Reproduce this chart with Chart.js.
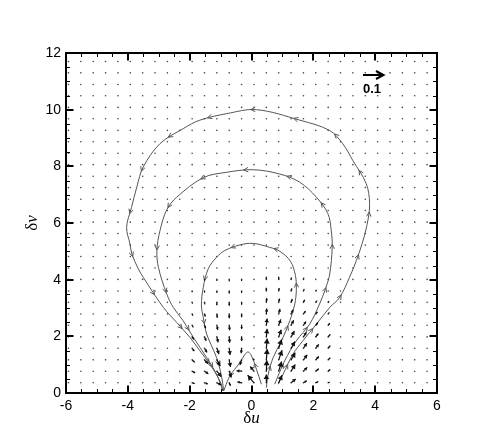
<!DOCTYPE html>
<html>
<head>
<meta charset="utf-8">
<script src="https://cdn.jsdelivr.net/npm/chart.js@4.4.0/dist/chart.umd.min.js"></script>
<style>
  body { margin: 0; background: #fff; }
</style>
</head>
<body>
<canvas id="chart" width="498" height="443"></canvas>
<script>
// tick labels
const xTicks = [-6, -4, -2, 0, 2, 4, 6];
const yTicks = [0, 2, 4, 6, 8, 10, 12];

// vector grid (positions of the little arrows)
const gridX = [-5.92, -5.52, -5.12, -4.72, -4.32, -3.92, -3.52, -3.12, -2.72, -2.32,
               -1.92, -1.52, -1.12, -0.72, -0.32, 0.08, 0.48, 0.88, 1.28, 1.68,
               2.08, 2.48, 2.88, 3.28, 3.68, 4.08, 4.48, 4.88, 5.28, 5.68];
const gridY = [0.36, 0.77, 1.17, 1.58, 1.98, 2.39, 2.79, 3.20, 3.60, 4.01,
               4.41, 4.82, 5.22, 5.63, 6.03, 6.44, 6.84, 7.25, 7.65, 8.06,
               8.46, 8.87, 9.27, 9.68, 10.08, 10.49, 10.89, 11.30, 11.70];

// visible vectors near the bottom centre (rows = gridY[0..9])
const quivCols = [-1.92, -1.52, -1.12, -0.72, -0.32, 0.08, 0.48, 0.88, 1.28, 1.68, 2.08, 2.48];
const quivRows = [0.36, 0.77, 1.17, 1.58, 1.98, 2.39, 2.79, 3.20, 3.60, 4.01];
const quivU = [
  [0.012, 0.016, 0.020, 0.006, -0.020, -0.030, 0.000, 0.016, 0.022, 0.016, 0.012, 0.008],
  [0.014, 0.018, 0.020, 0.010, -0.024, -0.018, 0.002, 0.014, 0.020, 0.018, 0.014, 0.010],
  [0.012, 0.016, 0.016, 0.006, -0.008, -0.004, 0.004, 0.016, 0.020, 0.018, 0.014, 0.010],
  [0.010, 0.012, 0.010, 0.004, -0.002, 0.000, 0.004, 0.014, 0.018, 0.016, 0.014, 0.010],
  [0.008, 0.008, 0.006, 0.002, 0.000, 0.000, 0.004, 0.012, 0.016, 0.014, 0.012, 0.010],
  [0.006, 0.006, 0.004, 0.002, 0.000, 0.000, 0.004, 0.010, 0.012, 0.012, 0.010, 0.008],
  [0.004, 0.004, 0.002, 0.000, 0.000, 0.000, 0.002, 0.006, 0.010, 0.010, 0.008, 0.006],
  [0.002, 0.002, 0.000, 0.000, 0.000, 0.000, 0.002, 0.004, 0.006, 0.006, 0.006, 0.004],
  [0.000, 0.000, 0.000, 0.000, 0.000, 0.000, 0.000, 0.002, 0.004, 0.004, 0.004, 0.002],
  [0.000, 0.000, 0.000, 0.000, 0.000, 0.000, 0.000, 0.000, 0.002, 0.002, 0.002, 0.002]
];
const quivV = [
  [-0.004, -0.006, -0.010, -0.014, 0.004, 0.036, 0.040, 0.036, 0.018, 0.010, 0.006, 0.004],
  [-0.008, -0.012, -0.026, -0.030, 0.002, 0.022, 0.052, 0.046, 0.032, 0.018, 0.012, 0.008],
  [-0.012, -0.018, -0.030, -0.034, -0.024, 0.006, 0.052, 0.046, 0.034, 0.024, 0.016, 0.010],
  [-0.014, -0.020, -0.028, -0.032, -0.024, 0.004, 0.046, 0.042, 0.032, 0.024, 0.018, 0.012],
  [-0.012, -0.018, -0.026, -0.028, -0.020, 0.004, 0.038, 0.034, 0.028, 0.022, 0.016, 0.012],
  [-0.010, -0.014, -0.022, -0.024, -0.018, 0.004, 0.032, 0.028, 0.024, 0.018, 0.014, 0.010],
  [-0.008, -0.012, -0.018, -0.020, -0.016, 0.004, 0.026, 0.024, 0.020, 0.014, 0.010, 0.008],
  [-0.006, -0.010, -0.014, -0.016, -0.012, 0.004, 0.020, 0.018, 0.016, 0.012, 0.008, 0.006],
  [-0.006, -0.008, -0.010, -0.012, -0.010, 0.004, 0.016, 0.014, 0.012, 0.010, 0.006, 0.004],
  [-0.004, -0.006, -0.008, -0.010, -0.008, 0.004, 0.012, 0.012, 0.010, 0.008, 0.005, 0.004]
];

// streamlines, in flow order
const outerX = [0.86, 1.02, 1.34, 1.66, 2.10, 2.53, 2.85, 3.17, 3.39, 3.58, 3.74, 3.82, 3.71, 3.28, 2.95, 2.52, 1.56, 0.16,
                -0.80, -1.67, -2.21, -2.96, -3.50, -3.71, -3.88, -4.04, -3.93, -3.87, -3.66, -3.50, -2.85, -2.42, -1.99, -1.67, -1.35, -1.02, -0.92];
const outerY = [0.31, 0.66, 1.37, 1.84, 2.43, 3.02, 3.37, 4.08, 4.67, 5.28, 5.95, 6.68, 7.39, 8.20, 8.80, 9.27, 9.63, 10.00,
                9.86, 9.63, 9.33, 8.80, 7.98, 7.27, 6.55, 5.85, 5.26, 4.91, 4.38, 4.08, 3.02, 2.49, 1.96, 1.49, 1.02, 0.42, 0.07];
const middleX = [0.75, 1.07, 1.45, 1.88, 2.20, 2.40, 2.53, 2.61, 2.58, 2.47, 2.10, 1.56, 0.91, 0.05,
                 -0.80, -1.56, -2.42, -2.74, -2.96, -3.06, -3.01, -2.74, -2.53, -2.21, -1.88, -1.45, -1.13, -0.92];
const middleY = [0.31, 1.13, 1.84, 2.43, 3.14, 3.70, 4.20, 5.14, 5.73, 6.33, 6.91, 7.44, 7.73, 7.88,
                 7.79, 7.60, 6.91, 6.47, 5.73, 5.03, 4.43, 3.49, 3.02, 2.55, 1.96, 1.25, 0.66, 0.07];
const innerX = [0.48, 0.54, 0.70, 0.97, 1.24, 1.40, 1.45, 1.42, 1.26, 0.92, 0.59, 0.05,
                -0.40, -0.86, -1.13, -1.40, -1.56, -1.62, -1.56, -1.45, -1.13, -0.97, -0.90];
const innerY = [0.19, 0.66, 1.25, 1.84, 2.55, 3.14, 3.65, 4.15, 4.65, 5.00, 5.14, 5.28,
                5.22, 5.03, 4.79, 4.38, 3.73, 3.10, 2.67, 2.08, 1.25, 0.60, 0.07];
const humpX = [0.32, 0.16, 0.00, -0.11, -0.22, -0.38, -0.70, -0.86, -0.90];
const humpY = [0.31, 0.84, 1.31, 1.45, 1.35, 1.07, 0.60, 0.19, 0.07];

const vecScale = 210; // px per velocity unit (0.1 -> 21 px)

function toPoints(xs, ys) {
  return xs.map((x, i) => ({ x: x, y: ys[i] }));
}

const gridPoints = [];
gridY.forEach(y => gridX.forEach(x => gridPoints.push({ x: x, y: y })));

function streamSet(xs, ys) {
  return {
    data: toPoints(xs, ys),
    showLine: true,
    isStream: true,
    borderColor: '#555',
    borderWidth: 1,
    pointRadius: 0,
    tension: 0.35,
    fill: false
  };
}

function drawVec(ctx, x0, y0, dx, dy, head) {
  const L = Math.hypot(dx, dy);
  ctx.beginPath();
  ctx.moveTo(x0, y0);
  ctx.lineTo(x0 + dx, y0 + dy);
  ctx.stroke();
  if (L < 2.5) return;
  const ux = dx / L, uy = dy / L;
  const h = Math.min(head, L * 0.55), w = h * 0.6;
  const tx = x0 + dx, ty = y0 + dy;
  ctx.beginPath();
  ctx.moveTo(tx, ty);
  ctx.lineTo(tx - ux * h - uy * w, ty - uy * h + ux * w);
  ctx.lineTo(tx - ux * h + uy * w, ty - uy * h - ux * w);
  ctx.closePath();
  ctx.fill();
}

const decor = {
  id: 'decor',
  afterDatasetsDraw(chart) {
    const ctx = chart.ctx;
    const xs = chart.scales.x, ys = chart.scales.y;
    ctx.save();

    // arrowheads along the streamlines
    ctx.strokeStyle = '#555';
    ctx.lineWidth = 1;
    chart.data.datasets.forEach((ds, i) => {
      if (!ds.isStream) return;
      const els = chart.getDatasetMeta(i).data;
      const pts = [[els[0].x, els[0].y]];
      for (let k = 1; k < els.length; k++) {
        const a = els[k - 1], b = els[k];
        for (let s = 1; s <= 10; s++) {
          const t = s / 10, m = 1 - t;
          const c1x = a.cp2x !== undefined ? a.cp2x : a.x, c1y = a.cp2y !== undefined ? a.cp2y : a.y;
          const c2x = b.cp1x !== undefined ? b.cp1x : b.x, c2y = b.cp1y !== undefined ? b.cp1y : b.y;
          pts.push([
            m * m * m * a.x + 3 * m * m * t * c1x + 3 * m * t * t * c2x + t * t * t * b.x,
            m * m * m * a.y + 3 * m * m * t * c1y + 3 * m * t * t * c2y + t * t * t * b.y
          ]);
        }
      }
      let total = 0;
      for (let k = 1; k < pts.length; k++) total += Math.hypot(pts[k][0] - pts[k - 1][0], pts[k][1] - pts[k - 1][1]);
      const spacing = 44;
      let next = 22, acc = 0;
      for (let k = 1; k < pts.length && next < total - 12; k++) {
        const dx = pts[k][0] - pts[k - 1][0], dy = pts[k][1] - pts[k - 1][1];
        const seg = Math.hypot(dx, dy);
        while (seg > 0 && acc + seg >= next && next < total - 12) {
          const f = (next - acc) / seg;
          const px = pts[k - 1][0] + dx * f, py = pts[k - 1][1] + dy * f;
          const ux = dx / seg, uy = dy / seg;
          ctx.beginPath();
          ctx.moveTo(px - ux * 4.5 - uy * 2.2, py - uy * 4.5 + ux * 2.2);
          ctx.lineTo(px, py);
          ctx.lineTo(px - ux * 4.5 + uy * 2.2, py - uy * 4.5 - ux * 2.2);
          ctx.stroke();
          next += spacing;
        }
        acc += seg;
      }
    });

    // vector field
    ctx.strokeStyle = '#111';
    ctx.fillStyle = '#111';
    ctx.lineWidth = 1.2;
    quivRows.forEach((y, r) => {
      quivCols.forEach((x, c) => {
        const u = quivU[r][c], v = quivV[r][c];
        if (Math.hypot(u, v) < 0.006) return;
        drawVec(ctx, xs.getPixelForValue(x), ys.getPixelForValue(y), u * vecScale, -v * vecScale, 5);
      });
    });
    ctx.restore();
  },
  afterDraw(chart) {
    const ctx = chart.ctx;
    const ca = chart.chartArea;
    const xs = chart.scales.x, ys = chart.scales.y;
    ctx.save();
    ctx.strokeStyle = '#000';

    // ticks on all four sides, pointing inwards
    for (let v = -6; v <= 6.001; v += 0.5) {
      const major = Math.abs(v % 2) < 1e-6;
      const len = major ? 7.5 : 4;
      ctx.lineWidth = major ? 2 : 1;
      const px = Math.round(xs.getPixelForValue(v)) + (major ? 0 : 0.5);
      ctx.beginPath();
      ctx.moveTo(px, ca.bottom); ctx.lineTo(px, ca.bottom - len);
      ctx.moveTo(px, ca.top); ctx.lineTo(px, ca.top + len);
      ctx.stroke();
    }
    for (let v = 0; v <= 12.001; v += 0.5) {
      const major = Math.abs(v % 2) < 1e-6;
      const len = major ? 7.5 : 4;
      ctx.lineWidth = major ? 2 : 1;
      const py = Math.round(ys.getPixelForValue(v)) + (major ? 0 : 0.5);
      ctx.beginPath();
      ctx.moveTo(ca.left, py); ctx.lineTo(ca.left + len, py);
      ctx.moveTo(ca.right, py); ctx.lineTo(ca.right - len, py);
      ctx.stroke();
    }

    // frame
    ctx.lineWidth = 2;
    ctx.strokeRect(ca.left, ca.top, ca.right - ca.left, ca.bottom - ca.top);

    // reference vector
    const rx = ca.right - 74, ry = ca.top + 22;
    ctx.lineWidth = 2;
    ctx.beginPath();
    ctx.moveTo(rx, ry); ctx.lineTo(rx + 20, ry);
    ctx.moveTo(rx + 13, ry - 4); ctx.lineTo(rx + 20.5, ry); ctx.lineTo(rx + 13, ry + 4);
    ctx.stroke();
    ctx.fillStyle = '#000';
    ctx.font = 'bold 13px "Liberation Sans", Arial, sans-serif';
    ctx.textAlign = 'left';
    ctx.textBaseline = 'alphabetic';
    ctx.fillText('0.1', rx, ry + 18);

    // axis titles
    const greek = '17px "Liberation Serif", "DejaVu Serif", serif';
    const ital = 'italic 17px "Liberation Serif", "DejaVu Serif", serif';
    ctx.font = greek; const wd = ctx.measureText('δ').width;
    ctx.font = ital; const wu = ctx.measureText('u').width, wv = ctx.measureText('v').width;
    const cx = (ca.left + ca.right) / 2;
    let sx = cx - (wd + wu) / 2;
    ctx.font = greek; ctx.fillText('δ', sx, ca.bottom + 30);
    ctx.font = ital; ctx.fillText('u', sx + wd, ca.bottom + 30);

    ctx.translate(37, (ca.top + ca.bottom) / 2);
    ctx.rotate(-Math.PI / 2);
    sx = -(wd + wv) / 2;
    ctx.font = greek; ctx.fillText('δ', sx, 0);
    ctx.font = ital; ctx.fillText('v', sx + wd, 0);
    ctx.restore();
  }
};

new Chart(document.getElementById('chart'), {
  type: 'scatter',
  data: {
    datasets: [
      {
        data: gridPoints,
        pointRadius: 0.8,
        pointBackgroundColor: '#444',
        pointBorderWidth: 0
      },
      streamSet(outerX, outerY),
      streamSet(middleX, middleY),
      streamSet(innerX, innerY),
      streamSet(humpX, humpY)
    ]
  },
  options: {
    responsive: false,
    animation: false,
    events: [],
    layout: { padding: { left: 0, right: 61, top: 53, bottom: 0 } },
    plugins: { legend: { display: false }, tooltip: { enabled: false } },
    scales: {
      x: {
        type: 'linear', min: -6, max: 6,
        grid: { display: false, drawTicks: false },
        border: { display: false },
        afterBuildTicks: s => { s.ticks = xTicks.map(v => ({ value: v })); },
        afterFit: s => { s.height = 50; },
        ticks: { color: '#000', padding: 5, font: { family: '"Liberation Sans", Arial, sans-serif', size: 14 } }
      },
      y: {
        type: 'linear', min: 0, max: 12,
        grid: { display: false, drawTicks: false },
        border: { display: false },
        afterBuildTicks: s => { s.ticks = yTicks.map(v => ({ value: v })); },
        afterFit: s => { s.width = 66; },
        ticks: { color: '#000', padding: 5, font: { family: '"Liberation Sans", Arial, sans-serif', size: 14 } }
      }
    }
  },
  plugins: [decor]
});
</script>
</body>
</html>
